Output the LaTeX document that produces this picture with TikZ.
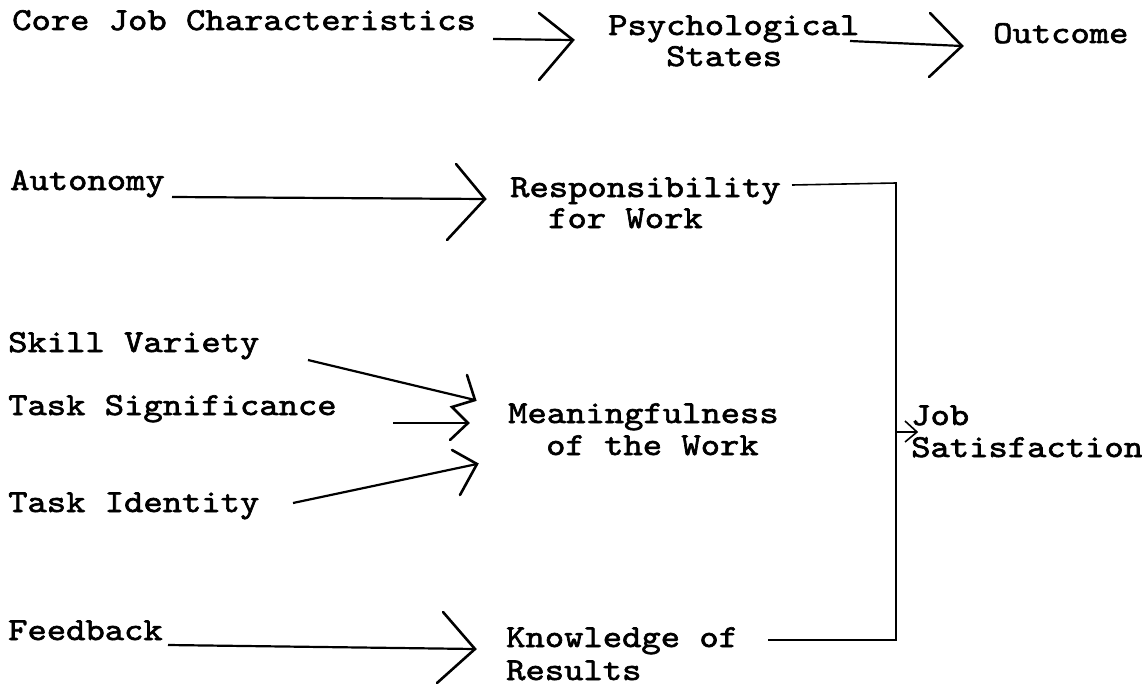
\documentclass[tikz,border=0pt]{standalone}
\usepackage{fontspec}
% typewriter face, widened to typewriter pitch
\newfontfamily\typew{lmmono10-regular.otf}[FakeStretch=1.15,FakeBold=2]
\begin{document}
\begin{tikzpicture}[x=1pt,y=-1pt,
  lbl/.style={anchor=base west,inner sep=0pt,font=\typew\fontsize{32}{33}\selectfont},
  conn/.style={line width=2.2pt},
  head/.style={line width=2.6pt,line join=miter,line cap=round},
  frame/.style={line width=1.6pt,line join=miter}]
\useasboundingbox (0,0) rectangle (1142,685);

% header row
\node[lbl] (core)    at (12,30)  {Core Job Characteristics};
\node[lbl] (psych)   at (608,35) {Psychological};
\node[lbl] (psych2)  at (666,66) {States};
\node[lbl] (outcome) at (993,43) {Outcome};

% core characteristics
\node[lbl] (auto)  at (10,190) {Autonomy};
\node[lbl] (skill) at (8,352)  {Skill Variety};
\node[lbl] (sig)   at (8,415)  {Task Significance};
\node[lbl] (ident) at (8,512)  {Task Identity};
\node[lbl] (feed)  at (8,640)  {Feedback};

% psychological states
\node[lbl] (resp)  at (510,197) {Responsibility};
\node[lbl] (resp2) at (548,228) {for Work};
\node[lbl] (mean)  at (508,423) {Meaningfulness};
\node[lbl] (mean2) at (546,455) {of the Work};
\node[lbl] (know)  at (506,647) {Knowledge of};
\node[lbl] (know2) at (506,680) {Results};

% outcome
\node[lbl] (job)  at (911,425) {Job};
\node[lbl] (job2) at (911,457) {Satisfaction};

% arrow tips and line ends
\coordinate (s1) at (493,39);  \coordinate (t1) at (573,40);
\coordinate (s2) at (850,41);  \coordinate (t2) at (962,46);
\coordinate (s3) at (172,197); \coordinate (t3) at (485,199);
\coordinate (s4) at (168,645); \coordinate (t4) at (475,649);
\coordinate (s5) at (308,360); \coordinate (t5) at (475,400);
\coordinate (s6) at (393,423); \coordinate (t6) at (468,423);
\coordinate (s7) at (293,503); \coordinate (t7) at (477,464);

% shafts
\draw[conn] (s1) -- (t1);
\draw[conn] (s2) -- (t2);
\draw[conn] (s3) -- (t3);
\draw[conn] (s4) -- (t4);
\draw[conn] (s5) -- (t5);
\draw[conn] (s6) -- (t6);
\draw[conn] (s7) -- (t7);

% open hand-drawn heads
\draw[head] (539,13)  -- (t1) -- (539,80);
\draw[head] (930,13)  -- (t2) -- (929,77);
\draw[head] (456,164) -- (t3) -- (447,240);
\draw[head] (443,612) -- (t4) -- (437,683);
\draw[head] (467,375) -- (t5) -- (452,407) -- (t6) -- (450,440);
\draw[head] (452,450) -- (t7) -- (460,495);

% bracket collecting the three states
\coordinate (rEnd) at (792,185);
\coordinate (kEnd) at (768,640);
\coordinate (cTop) at (896,183);
\coordinate (cBot) at (896,640);
\coordinate (jTip) at (917,432);
\draw[frame] (rEnd) -- (cTop) -- (cBot) -- (kEnd);
\draw[frame] (896,432) -- (jTip);
\draw[frame] (905,421) -- (jTip) -- (905,442);
\end{tikzpicture}
\end{document}
